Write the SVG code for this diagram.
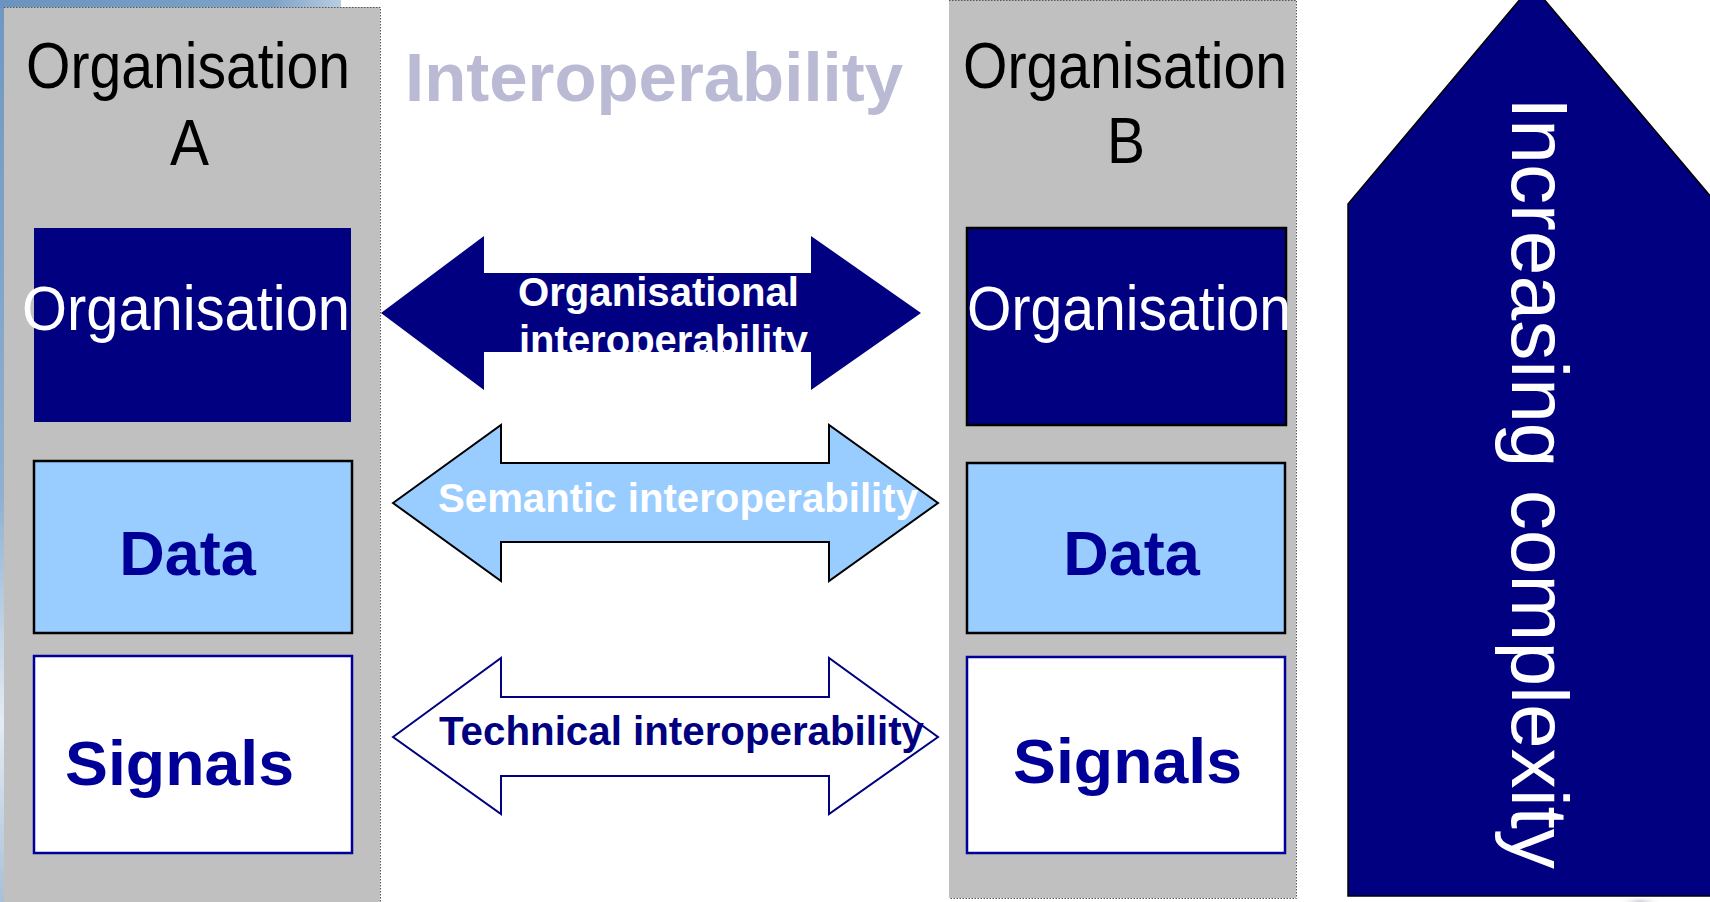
<svg xmlns="http://www.w3.org/2000/svg" width="1710" height="902" viewBox="0 0 1710 902">
<defs>
<linearGradient id="gLeft" x1="0" y1="0" x2="0" y2="1">
<stop offset="0" stop-color="#6f97c0"/>
<stop offset="0.55" stop-color="#8fb0d0"/>
<stop offset="0.8" stop-color="#e4ecf4"/>
<stop offset="1" stop-color="#a9bfd6"/>
</linearGradient>
<linearGradient id="gTop" x1="0" y1="0" x2="1" y2="0">
<stop offset="0" stop-color="#6a94bf"/>
<stop offset="0.8" stop-color="#7da3c8"/>
<stop offset="1" stop-color="#b9cde2"/>
</linearGradient>
<radialGradient id="gGhost" cx="0.5" cy="0.5" r="0.5">
<stop offset="0" stop-color="#c8c8d0"/>
<stop offset="1" stop-color="#ffffff" stop-opacity="0"/>
</radialGradient>
</defs>
<style>
.panel{fill:#c0c0c0;}
.dot{fill:none;stroke:#555;stroke-width:1;stroke-dasharray:1.5 1.5;}
.head{font-family:"Liberation Sans",Arial,sans-serif;font-size:64px;fill:#000;}
.orgbox{fill:#000080;}
.orgtxt{font-family:"Liberation Sans",Arial,sans-serif;font-size:63px;fill:#fff;}
.databox{fill:#99ccff;stroke:#000;stroke-width:2.5;}
.sigbox{fill:#fff;stroke:#000099;stroke-width:2.5;}
.big{font-family:"Liberation Sans",Arial,sans-serif;font-weight:bold;font-size:63px;fill:#000099;}
.lbl{font-family:"Liberation Sans",Arial,sans-serif;font-weight:bold;font-size:40px;}
</style>
<rect x="0" y="0" width="1710" height="902" fill="#fff"/>
<!-- background strips -->
<rect x="0" y="0" width="5" height="902" fill="url(#gLeft)"/>
<rect x="0" y="0" width="341" height="8" fill="url(#gTop)"/>
<ellipse cx="1640" cy="902" rx="22" ry="6" fill="url(#gGhost)"/>

<g id="orgA">
<rect class="panel" x="4" y="7" width="376" height="895"/>
<path class="dot" d="M4 7.5 H380.5 V902"/>
<text class="head" x="26" y="88" textLength="324" lengthAdjust="spacingAndGlyphs">Organisation</text>
<text class="head" x="170" y="165" textLength="39" lengthAdjust="spacingAndGlyphs">A</text>
</g>
<g id="orgA-organisation">
<rect class="orgbox" x="34" y="228" width="317" height="194"/>
<text class="orgtxt" x="22" y="330" textLength="328" lengthAdjust="spacingAndGlyphs">Organisation</text>
</g>
<g id="orgA-data">
<rect class="databox" x="34" y="461" width="318" height="172"/>
<text class="big" x="187.5" y="575" text-anchor="middle">Data</text>
</g>
<g id="orgA-signals">
<rect class="sigbox" x="34" y="656" width="318" height="197"/>
<text class="big" x="65" y="785" textLength="229" lengthAdjust="spacingAndGlyphs">Signals</text>
</g>

<g id="orgB">
<rect class="panel" x="949" y="0" width="347" height="898"/>
<path class="dot" d="M949 0.5 H1296.5 V898.5 H949"/>
<text class="head" x="963" y="88" textLength="324" lengthAdjust="spacingAndGlyphs">Organisation</text>
<text class="head" x="1107" y="163" textLength="38" lengthAdjust="spacingAndGlyphs">B</text>
</g>
<g id="orgB-organisation">
<rect class="orgbox" x="967" y="228" width="319" height="197" stroke="#000" stroke-width="2.5"/>
<text class="orgtxt" x="967" y="330" textLength="324" lengthAdjust="spacingAndGlyphs">Organisation</text>
</g>
<g id="orgB-data">
<rect class="databox" x="967" y="463" width="318" height="170"/>
<text class="big" x="1131.5" y="575" text-anchor="middle">Data</text>
</g>
<g id="orgB-signals">
<rect class="sigbox" x="967" y="657" width="318" height="196"/>
<text class="big" x="1013" y="783" textLength="229" lengthAdjust="spacingAndGlyphs">Signals</text>
</g>

<g id="title">
<text x="405" y="101" font-family="Liberation Sans, Arial, sans-serif" font-weight="bold" font-size="69" fill="#babad4" textLength="498" lengthAdjust="spacingAndGlyphs">Interoperability</text>
</g>

<g id="connectors">
<g id="organisational-arrow">
<polygon points="381,313 484,236 484,273 811,273 811,236 921,313 811,390 811,352 484,352 484,390" fill="#000080"/>
<text class="lbl" x="518" y="306" fill="#fff" textLength="281" lengthAdjust="spacingAndGlyphs">Organisational</text>
<text class="lbl" x="519" y="354" fill="#fff" textLength="289" lengthAdjust="spacingAndGlyphs">interoperability</text>
</g>
<g id="semantic-arrow">
<polygon points="393,503 501,425 501,463 829,463 829,425 938,503 829,581 829,542 501,542 501,581" fill="#99ccff" stroke="#000" stroke-width="2"/>
<text class="lbl" x="438" y="512" fill="#fff" textLength="480" lengthAdjust="spacingAndGlyphs">Semantic interoperability</text>
</g>
<g id="technical-arrow">
<polygon points="393,737 501,658 501,697 829,697 829,658 938,737 829,814 829,776 501,776 501,814" fill="#fff" stroke="#000080" stroke-width="2"/>
<text class="lbl" x="439" y="745" fill="#000080" textLength="485" lengthAdjust="spacingAndGlyphs">Technical interoperability</text>
</g>
</g>

<g id="complexity-arrow">
<polygon points="1348,204 1532,-15 1717,204 1717,896 1348,896" fill="#000080" stroke="#000" stroke-width="1.5"/>
<text transform="translate(1512,97) rotate(90)" x="0" y="0" font-family="Liberation Sans, Arial, sans-serif" font-size="80" fill="#fff" textLength="772" lengthAdjust="spacingAndGlyphs">Increasing complexity</text>
</g>
</svg>
